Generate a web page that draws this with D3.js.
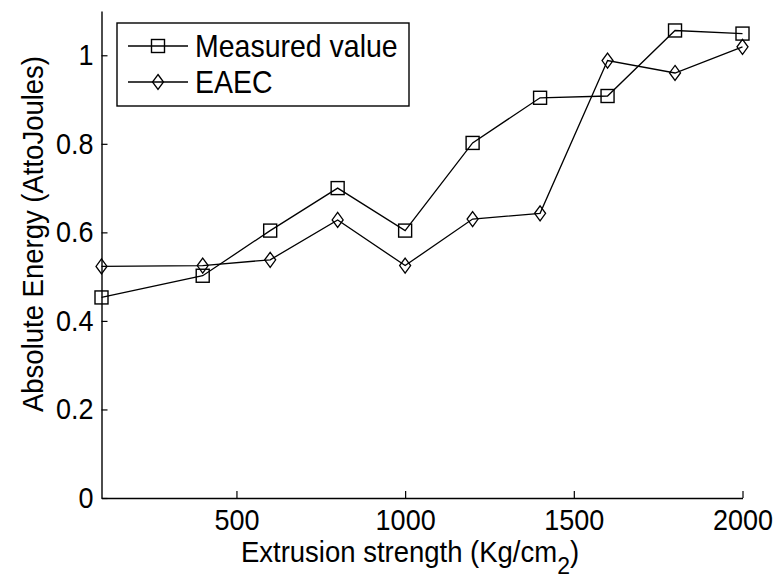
<!DOCTYPE html>
<html>
<head>
<meta charset="utf-8">
<script src="https://cdn.jsdelivr.net/npm/d3@7"></script>
<style>
  html, body { margin: 0; padding: 0; background: #fff; }
  svg { display: block; }
  text { font-family: "Liberation Sans", Arial, Helvetica, sans-serif; fill: #000; }
</style>
</head>
<body>
<svg id="chart" width="777" height="578"></svg>
<script>
// ---- data ----
const extrusion = [100, 400, 600, 800, 1000, 1200, 1400, 1600, 1800, 2000];
const measured  = [0.453, 0.502, 0.604, 0.700, 0.604, 0.802, 0.904, 0.908, 1.056, 1.049];
const eaec      = [0.523, 0.525, 0.538, 0.628, 0.525, 0.630, 0.643, 0.988, 0.960, 1.019];
const xTicks = [500, 1000, 1500, 2000];
const yTicks = [0, 0.2, 0.4, 0.6, 0.8, 1];
const yTickLabels = ["0", "0.2", "0.4", "0.6", "0.8", "1"];
const seriesNames = ["Measured value", "EAEC"];

const svg = d3.select("#chart");
const x = d3.scaleLinear().domain([100, 2000]).range([101.5, 742.5]);
const y = d3.scaleLinear().domain([0, 1.1]).range([498, 11]);

const tickFont = 27;
const labelFont = 27.5;

// axes
const gx = svg.append("g").attr("transform", `translate(0,${y(0)})`)
  .call(d3.axisBottom(x).tickValues(xTicks).tickFormat(d3.format("d"))
    .tickSizeInner(-7).tickSizeOuter(0).tickPadding(10));
const gy = svg.append("g").attr("transform", `translate(${x(100)},0)`)
  .call(d3.axisLeft(y).tickValues(yTicks).tickFormat((d, i) => yTickLabels[i])
    .tickSizeInner(-6).tickSizeOuter(0).tickPadding(8));
[gx, gy].forEach(g => {
  g.selectAll("path.domain").attr("stroke", "#000").attr("stroke-width", 1.4);
  g.selectAll(".tick line").attr("stroke", "#000").attr("stroke-width", 1.2);
  g.selectAll(".tick text").attr("font-size", tickFont)
    .attr("font-family", "'Liberation Sans', Arial, sans-serif").attr("fill", "#000")
    .attr("transform", "scale(1,1.1)");
});

// axis labels
const xl = svg.append("text").attr("transform", "translate(410,562) scale(1,1.08)")
  .attr("text-anchor", "middle").attr("font-size", labelFont);
xl.append("tspan").text("Extrusion strength (Kg/cm");
xl.append("tspan").attr("font-size", 23).attr("dy", 11).text("2");
xl.append("tspan").attr("dy", -11).text(")");

svg.append("text")
  .attr("transform", `translate(43,234) rotate(-90) scale(1,1.05)`)
  .attr("text-anchor", "middle").attr("font-size", labelFont)
  .text("Absolute Energy (AttoJoules)");

// lines
const line = d3.line().x((d, i) => x(extrusion[i])).y(d => y(d));
svg.append("path").datum(measured).attr("d", line)
  .attr("fill", "none").attr("stroke", "#000").attr("stroke-width", 1.3);
svg.append("path").datum(eaec).attr("d", line)
  .attr("fill", "none").attr("stroke", "#000").attr("stroke-width", 1.3);

// markers
function square(g, cx, cy) {
  g.append("rect").attr("x", cx - 6.5).attr("y", cy - 6.5)
    .attr("width", 13).attr("height", 13)
    .attr("fill", "none").attr("stroke", "#000").attr("stroke-width", 1.4);
}
function diamond(g, cx, cy) {
  g.append("path")
    .attr("d", `M${cx},${cy - 7.5}L${cx + 5.5},${cy}L${cx},${cy + 7.5}L${cx - 5.5},${cy}Z`)
    .attr("fill", "none").attr("stroke", "#000").attr("stroke-width", 1.3);
}
const mg = svg.append("g");
measured.forEach((d, i) => square(mg, x(extrusion[i]), y(d)));
eaec.forEach((d, i) => diamond(mg, x(extrusion[i]), y(d)));

// legend
const lg = svg.append("g");
lg.append("rect").attr("x", 117).attr("y", 23).attr("width", 292).attr("height", 83)
  .attr("fill", "#fff").attr("stroke", "#000").attr("stroke-width", 1.4);
const rows = [46, 82];
rows.forEach((ry, i) => {
  lg.append("line").attr("x1", 128).attr("x2", 188).attr("y1", ry).attr("y2", ry)
    .attr("stroke", "#000").attr("stroke-width", 1.3);
  if (i === 0) square(lg, 158, ry); else diamond(lg, 158, ry);
  lg.append("text").attr("transform", `translate(195,${ry + 10.5}) scale(1,1.1)`)
    .attr("font-size", 28.5).text(seriesNames[i]);
});
</script>
</body>
</html>
